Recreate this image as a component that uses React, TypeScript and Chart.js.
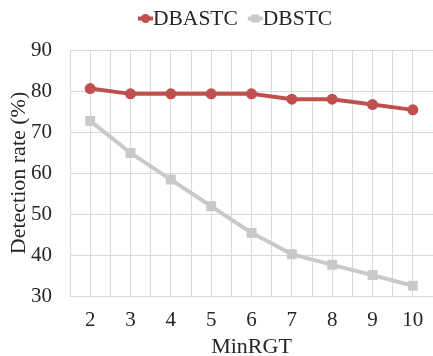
import React, { useEffect, useRef } from "react";
import { Chart, registerables } from "chart.js";
Chart.register(...registerables);

const categories = [2, 3, 4, 5, 6, 7, 8, 9, 10];
const dbastc = [80.6, 79.3, 79.3, 79.3, 79.3, 78.0, 78.0, 76.7, 75.4];
const dbstc = [72.7, 64.9, 58.4, 51.9, 45.4, 40.2, 37.6, 35.1, 32.5];
const yTicks = [30, 40, 50, 60, 70, 80, 90];
const seriesNames = ["DBASTC", "DBSTC"];

const RED = "#C0504D";
const GRAY = "#C9C9C9";
const TEXT = "#262626";
const FONT = "'Liberation Serif', 'Times New Roman', serif";

const legendPlugin = {
  id: "excelLegend",
  afterDraw(chart: any) {
    const ctx = chart.ctx;
    ctx.save();
    ctx.font = `21.5px ${FONT}`;
    ctx.textBaseline = "middle";
    ctx.textAlign = "left";
    const y = 18.5;
    let x = 138;
    chart.data.datasets.forEach((d: any, i: number) => {
      const color = d.borderColor;
      ctx.strokeStyle = color;
      ctx.fillStyle = color;
      ctx.lineWidth = 4;
      ctx.beginPath();
      ctx.moveTo(x, y);
      ctx.lineTo(x + 15, y);
      ctx.stroke();
      if (i === 0) {
        ctx.beginPath();
        ctx.arc(x + 7.5, y, 4.5, 0, Math.PI * 2);
        ctx.fill();
      } else {
        ctx.fillRect(x + 3.5, y - 4, 8, 8);
      }
      x += 15;
      ctx.fillStyle = TEXT;
      ctx.fillText(d.label, x, y + 1);
      x += ctx.measureText(d.label).width + 10;
    });
    ctx.restore();
  },
};

export default function App() {
  const ref = useRef<HTMLCanvasElement>(null);
  useEffect(() => {
    document.body.style.margin = "0";
    const chart = new Chart(ref.current!, {
      type: "line",
      data: {
        datasets: [
          {
            label: seriesNames[0],
            data: categories.map((c, i) => ({ x: c, y: dbastc[i] })),
            borderColor: RED,
            backgroundColor: RED,
            borderWidth: 4,
            pointStyle: "circle",
            pointRadius: 5.5,
            pointBorderWidth: 0,
          },
          {
            label: seriesNames[1],
            data: categories.map((c, i) => ({ x: c, y: dbstc[i] })),
            borderColor: GRAY,
            backgroundColor: GRAY,
            borderWidth: 4,
            pointStyle: "rect",
            pointRadius: 7,
            pointBorderWidth: 0,
          },
        ],
      },
      options: {
        animation: false,
        responsive: false,
        layout: { autoPadding: false, padding: { top: 50, right: 0, left: 0, bottom: 0 } },
        plugins: {
          legend: { display: false },
          tooltip: { enabled: false },
        },
        scales: {
          x: {
            type: "linear",
            min: 1.5,
            max: 10.5,
            afterBuildTicks: (axis: any) => {
              const t: any[] = [];
              for (let v = 1.5; v <= 10.5001; v += 0.5) t.push({ value: v });
              axis.ticks = t;
            },
            afterFit: (axis: any) => {
              axis.height = 60;
              axis.paddingLeft = 0;
              axis.paddingRight = 0;
            },
            ticks: {
              autoSkip: false,
              maxRotation: 0,
              callback: (v: any) => (categories.includes(Number(v)) ? String(v) : ""),
              font: { family: FONT, size: 21, lineHeight: 2.33 },
              color: TEXT,
              padding: 0,
            },
            grid: { color: "#D9D9D9", lineWidth: 1, drawTicks: false },
            border: { display: false },
            title: {
              display: true,
              text: "MinRGT",
              font: { family: FONT, size: 22, lineHeight: 1 },
              color: TEXT,
              padding: { top: 0, bottom: -2 },
            },
          },
          y: {
            min: 30,
            max: 90,
            afterBuildTicks: (axis: any) => {
              axis.ticks = yTicks.map((v) => ({ value: v }));
            },
            afterFit: (axis: any) => {
              axis.width = 70;
            },
            ticks: {
              font: { family: FONT, size: 21 },
              color: TEXT,
              padding: 18,
            },
            grid: { color: "#D9D9D9", lineWidth: 1, drawTicks: false },
            border: { display: false },
            title: {
              display: true,
              text: "Detection rate (%)",
              font: { family: FONT, size: 22, lineHeight: 1 },
              color: TEXT,
              padding: { top: 8, bottom: 0 },
            },
          },
        },
      },
      plugins: [legendPlugin],
    } as any);
    return () => chart.destroy();
  }, []);
  return (
    <div style={{ width: 433, height: 356 }}>
      <canvas ref={ref} width={433} height={356} style={{ display: "block" }} />
    </div>
  );
}
